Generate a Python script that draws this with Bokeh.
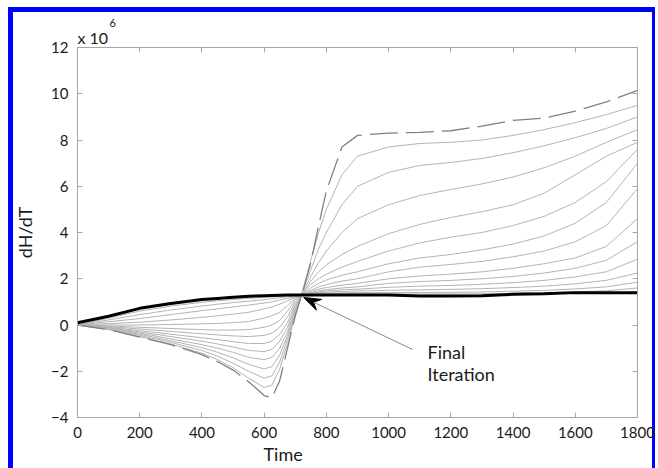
from bokeh.plotting import figure
from bokeh.models import (Label, Arrow, LinearAxis, Range1d, CustomJSTickFormatter, Title)
from bokeh.embed import file_html
from bokeh.resources import INLINE

# ---- data (values in units of 1e6) ----
time = [0, 100, 200, 300, 400, 450, 500, 550, 600, 625, 650, 675, 700, 725,
        750, 775, 800, 850, 900, 1000, 1100, 1200, 1300, 1400, 1500, 1600, 1700, 1800]

first_iter = [0.0, -0.2, -0.52, -0.85, -1.28, -1.58, -1.95, -2.45, -3.05, -3.15, -2.4, -1.0, 0.4, 1.5,
              2.7, 4.3, 5.8, 7.7, 8.2, 8.3, 8.33, 8.4, 8.6, 8.85, 8.95, 9.25, 9.65, 10.15]

it1 = [0, -0.2, -0.5, -0.82, -1.22, -1.5, -1.85, -2.3, -2.7, -2.6, -1.9, -0.8, 0.4, 1.55,
       2.8, 4.0, 5.0, 6.5, 7.3, 7.7, 7.85, 7.9, 8.0, 8.2, 8.45, 8.75, 9.1, 9.5]
it2 = [0, -0.18, -0.45, -0.75, -1.1, -1.35, -1.65, -2.0, -2.3, -2.2, -1.6, -0.6, 0.5, 1.5,
       2.4, 3.3, 4.0, 5.2, 6.0, 6.6, 6.9, 7.03, 7.2, 7.45, 7.75, 8.1, 8.5, 9.0]
it3 = [0, -0.16, -0.4, -0.68, -0.98, -1.18, -1.42, -1.7, -1.9, -1.8, -1.3, -0.45, 0.6, 1.45,
       2.1, 2.7, 3.2, 4.0, 4.6, 5.2, 5.6, 5.86, 6.1, 6.4, 6.8, 7.3, 7.9, 8.45]
it4 = [0, -0.14, -0.35, -0.6, -0.85, -1.0, -1.18, -1.4, -1.5, -1.4, -1.0, -0.3, 0.7, 1.4,
       1.9, 2.3, 2.6, 3.05, 3.4, 3.95, 4.35, 4.65, 4.9, 5.2, 5.7, 6.5, 7.3, 7.9]
it5 = [0, -0.12, -0.3, -0.5, -0.7, -0.82, -0.95, -1.1, -1.15, -1.05, -0.7, -0.1, 0.8, 1.38,
       1.75, 2.0, 2.2, 2.5, 2.75, 3.2, 3.55, 3.8, 4.0, 4.3, 4.7, 5.3, 6.2, 7.6]
it6 = [0, -0.1, -0.24, -0.4, -0.55, -0.63, -0.72, -0.8, -0.8, -0.7, -0.4, 0.1, 0.9, 1.35,
       1.6, 1.8, 1.95, 2.15, 2.3, 2.65, 2.9, 3.05, 3.25, 3.5, 3.85, 4.4, 5.3, 7.0]
it7 = [0, -0.07, -0.17, -0.28, -0.38, -0.43, -0.47, -0.5, -0.45, -0.35, -0.1, 0.35, 1.0, 1.33,
       1.5, 1.65, 1.75, 1.9, 2.0, 2.3, 2.5, 2.62, 2.75, 2.95, 3.2, 3.6, 4.3, 5.9]
it8 = [0, -0.04, -0.1, -0.15, -0.2, -0.22, -0.22, -0.2, -0.1, 0.0, 0.2, 0.6, 1.1, 1.32,
       1.45, 1.55, 1.62, 1.72, 1.8, 2.0, 2.12, 2.2, 2.3, 2.45, 2.65, 2.9, 3.4, 4.6]
it9 = [0, 0.0, 0.0, 0.02, 0.05, 0.07, 0.1, 0.15, 0.3, 0.4, 0.55, 0.85, 1.15, 1.3,
       1.4, 1.48, 1.53, 1.6, 1.65, 1.8, 1.88, 1.93, 2.0, 2.1, 2.25, 2.45, 2.8, 3.6]
it10 = [0, 0.06, 0.12, 0.22, 0.33, 0.4, 0.47, 0.55, 0.7, 0.78, 0.9, 1.05, 1.2, 1.3,
        1.38, 1.43, 1.47, 1.52, 1.55, 1.63, 1.68, 1.71, 1.76, 1.83, 1.93, 2.08, 2.3, 2.85]
it11 = [0, 0.14, 0.28, 0.45, 0.62, 0.7, 0.78, 0.86, 0.95, 1.0, 1.08, 1.15, 1.23, 1.3,
        1.36, 1.4, 1.42, 1.45, 1.47, 1.5, 1.52, 1.54, 1.57, 1.62, 1.68, 1.78, 1.93, 2.25]
it12 = [0, 0.22, 0.45, 0.65, 0.82, 0.9, 0.97, 1.03, 1.1, 1.14, 1.18, 1.22, 1.26, 1.3,
        1.34, 1.37, 1.38, 1.39, 1.4, 1.4, 1.41, 1.41, 1.43, 1.46, 1.5, 1.56, 1.65, 1.85]
it13 = [0, 0.3, 0.6, 0.82, 0.98, 1.05, 1.1, 1.15, 1.2, 1.22, 1.24, 1.26, 1.28, 1.3,
        1.32, 1.33, 1.34, 1.35, 1.35, 1.34, 1.34, 1.34, 1.35, 1.37, 1.4, 1.43, 1.48, 1.6]

final_iter = [0.1, 0.38, 0.72, 0.93, 1.1, 1.15, 1.2, 1.24, 1.27, 1.28, 1.29, 1.3, 1.3, 1.3,
              1.3, 1.3, 1.3, 1.3, 1.3, 1.3, 1.25, 1.25, 1.27, 1.33, 1.35, 1.4, 1.4, 1.4]

iterations = [it1, it2, it3, it4, it5, it6, it7, it8, it9, it10, it11, it12, it13]

x_ticks = [0, 200, 400, 600, 800, 1000, 1200, 1400, 1600, 1800]
y_ticks = [-4, -2, 0, 2, 4, 6, 8, 10, 12]

# annotation anchors (data units)
arrow_tail = (1077, -1.06)
arrow_tip = (727, 1.19)

FONT = "Lato"
AX = "#a6a6a6"
TXT = "#1a1a1a"
BLUE = "#0000ff"

X0, X1, Y0, Y1 = 0, 1800, -4, 12
FRAME_W, FRAME_H = 560, 370

p = figure(width=658, height=468, output_backend="svg", toolbar_location=None,
           title=None,
           x_range=Range1d(X0, X1), y_range=Range1d(Y0, Y1),
           min_border_left=77, min_border_right=21, min_border_top=47, min_border_bottom=51)
p.background_fill_color = "white"
p.border_fill_color = None
p.outline_line_color = AX
p.grid.visible = False
g = f"linear-gradient({BLUE},{BLUE})"
p.styles = {
    "background-color": "white",
    "background-image": f"{g}, {g}, {g}",
    "background-position": "8px 7px, 8px 7px, 652px 7px",
    "background-size": "647px 5px, 5px 461px, 3px 461px",
    "background-repeat": "no-repeat, no-repeat, no-repeat",
}

for ax in (p.xaxis[0], p.yaxis[0]):
    ax.axis_line_color = AX
    ax.major_tick_line_color = AX
    ax.major_tick_in = 5
    ax.major_tick_out = 0
    ax.minor_tick_line_color = None
    ax.major_label_text_font = FONT
    ax.major_label_text_font_size = "15px"
    ax.major_label_text_color = TXT
p.xaxis.ticker = x_ticks
p.yaxis.ticker = y_ticks
p.xaxis.major_label_standoff = 9
p.yaxis.major_label_standoff = 9

p.yaxis.axis_label = "dH/dT"
p.yaxis.axis_label_text_font = FONT
p.yaxis.axis_label_text_font_size = "18px"
p.yaxis.axis_label_text_font_style = "normal"
p.yaxis.axis_label_text_color = TXT
p.yaxis.axis_label_standoff = 12

blank = CustomJSTickFormatter(code="return ''")
top_ax = LinearAxis(ticker=x_ticks, formatter=blank, axis_line_color=AX,
                    major_tick_line_color=AX, major_tick_in=5, major_tick_out=0,
                    minor_tick_line_color=None, major_label_text_font_size="1px",
                    major_label_standoff=0)
right_ax = LinearAxis(ticker=y_ticks, formatter=blank, axis_line_color=AX,
                      major_tick_line_color=AX, major_tick_in=5, major_tick_out=0,
                      minor_tick_line_color=None, major_label_text_font_size="1px",
                      major_label_standoff=0)
p.add_layout(top_ax, "above")
p.add_layout(right_ax, "right")

# exponent "x 10^6" (first added sits closest to the frame)
p.add_layout(Title(text="x 10", align="left", offset=0, standoff=1, text_font=FONT,
                   text_font_size="16px", text_font_style="normal", text_color=TXT), "above")
p.add_layout(Title(text="6", align="left", offset=32, standoff=-3, text_font=FONT,
                   text_font_size="11px", text_font_style="normal", text_color=TXT), "above")

# x axis title
p.add_layout(Title(text="Time", align="left", offset=186, standoff=0, text_font=FONT,
                   text_font_size="18px", text_font_style="normal", text_color=TXT), "below")

for ys in iterations:
    p.line(time, ys, line_color="#b3b3b3", line_width=1)
p.line(time, first_iter, line_color="#808080", line_width=1.3, line_dash="28 8")
p.line(time, final_iter, line_color="black", line_width=3)

# annotation arrow: grey shaft + black "vback" head, built from the two anchors
kx = FRAME_W / (X1 - X0)     # px per data unit
ky = FRAME_H / (Y1 - Y0)
vx = (arrow_tail[0] - arrow_tip[0]) * kx
vy = (arrow_tail[1] - arrow_tip[1]) * ky
ln = (vx ** 2 + vy ** 2) ** 0.5
ux, uy = vx / ln, vy / ln          # unit vector tip -> tail (px, y up)
nx, ny = -uy, ux                   # normal
L, W, N = 17, 6, 11                # head length, half width, notch depth (px)

def to_data(px, py):
    return arrow_tip[0] + px / kx, arrow_tip[1] + py / ky

head = [to_data(0, 0),
        to_data(L * ux + W * nx, L * uy + W * ny),
        to_data(N * ux, N * uy),
        to_data(L * ux - W * nx, L * uy - W * ny)]
notch = head[2]
p.add_layout(Arrow(x_start=arrow_tail[0], y_start=arrow_tail[1],
                   x_end=notch[0], y_end=notch[1],
                   line_color="#8a8a8a", line_width=1, end=None))
p.patch([h[0] for h in head], [h[1] for h in head], fill_color="black",
        line_color="black", line_width=1)

p.add_layout(Label(x=1125, y=-1.15, text="Final", text_font=FONT, text_font_size="18px",
                   text_color=TXT, text_baseline="alphabetic"))
p.add_layout(Label(x=1125, y=-2.1, text="Iteration", text_font=FONT, text_font_size="18px",
                   text_color=TXT, text_baseline="alphabetic"))

open("out.html", "w").write(file_html(p, INLINE))
